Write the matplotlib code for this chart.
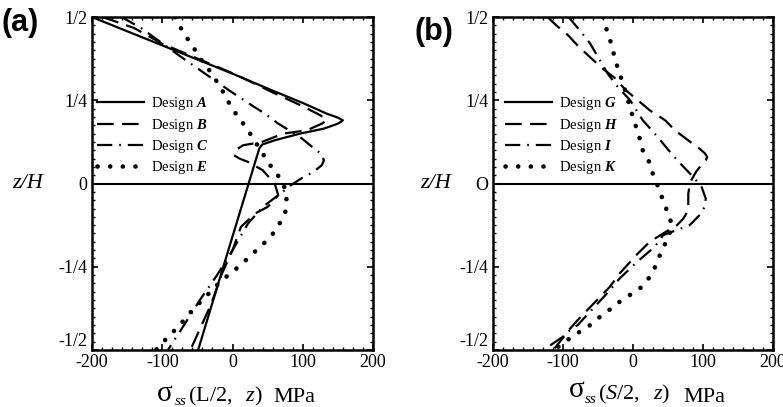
import matplotlib
matplotlib.use('Agg')
import matplotlib.pyplot as plt
from matplotlib.ticker import MultipleLocator

plt.rcParams['font.family'] = 'Liberation Serif'
plt.rcParams['mathtext.fontset'] = 'custom'
plt.rcParams['mathtext.rm'] = 'Liberation Serif'
plt.rcParams['mathtext.it'] = 'Liberation Serif:italic'
plt.rcParams['mathtext.bf'] = 'Liberation Serif:italic:bold'
plt.rcParams['lines.scale_dashes'] = False

# panel (a): sigma_ss(L/2, z) in MPa against z/H
A_x = [-200, -100, 0, 56, 100, 134, 150, 157, 150, 130, 96, 60, 42, 38, -11, -49]
A_z = [0.5, 0.415, 0.33, 0.28, 0.242, 0.21, 0.198, 0.19, 0.18, 0.165, 0.15, 0.13, 0.117, 0.105, -0.235, -0.5]

B_x = [-185, -164, -140, -100, 6, 56, 100, 125, 134, 127, 106, 72, 42, 15, 4, 2, 10, 22, 43, 60, 65, 50, 32,
       12, 0, -15, -30, -45, -60]
B_z = [0.5, 0.485, 0.467, 0.42, 0.326, 0.275, 0.232, 0.205, 0.19, 0.18, 0.16, 0.15, 0.125, 0.115, 0.1, 0.085,
       0.075, 0.065, 0.04, 0.0, -0.035, -0.07, -0.09, -0.13, -0.2, -0.27, -0.36, -0.43, -0.5]

C_x = [-158, -130, -75, -39, -5, 31, 46, 65, 96, 115, 126, 130, 127, 115, 99, 83, 65, 43, 22, 0, -22, -45, -69, -92]
C_z = [0.5, 0.467, 0.383, 0.33, 0.28, 0.23, 0.21, 0.18, 0.14, 0.107, 0.09, 0.07, 0.055, 0.035, 0.017, -0.005,
       -0.035, -0.07, -0.12, -0.2, -0.275, -0.345, -0.425, -0.5]

E_x = [-82, -69, -59, -44, -33, -22, -12, -2, 8, 20, 31, 40, 51, 63, 73, 77, 75, 67, 56, 42, 29, 14, 0, -15, -29,
       -43, -57, -69, -82, -96, -109]
E_z = [0.5, 0.45, 0.42, 0.37, 0.34, 0.305, 0.27, 0.23, 0.2, 0.167, 0.13, 0.1, 0.062, 0.03, -0.005, -0.04, -0.087,
       -0.12, -0.155, -0.185, -0.21, -0.24, -0.265, -0.29, -0.32, -0.35, -0.38, -0.41, -0.44, -0.47, -0.5]

# panel (b): sigma_ss(S/2, z); no solid G trace is visible in the picture
G_x = []
G_z = []

H_x = [-122, -110, -93, -77, -60, -43, -26, -10, 7, 24, 46, 60, 80, 95, 103, 106, 104, 100, 90, 82, 79, 79, 72,
       63, 43, 24, 7, -19, -33, -79, -100, -128]
H_z = [0.5, 0.476, 0.446, 0.41, 0.377, 0.345, 0.317, 0.28, 0.25, 0.22, 0.19, 0.16, 0.128, 0.105, 0.09, 0.08, 0.07,
       0.062, 0.035, 0.005, -0.03, -0.08, -0.105, -0.125, -0.15, -0.175, -0.21, -0.27, -0.31, -0.41, -0.46, -0.5]

I_x = [-92, -74, -61, -50, -36, -24, -4, 14, 29, 57, 70, 86, 98, 104, 103, 100, 95, 81, 62, 43, 31, 6, -19, -35,
       -79, -93, -114]
I_z = [0.5, 0.455, 0.42, 0.38, 0.33, 0.296, 0.25, 0.19, 0.155, 0.085, 0.055, 0.02, -0.01, -0.045, -0.065, -0.08,
       -0.095, -0.125, -0.14, -0.155, -0.19, -0.235, -0.285, -0.325, -0.425, -0.445, -0.5]

K_x = [-43, -37, -31, -26, -20, -14, -3, 3, 9, 14, 23, 29, 36, 43, 50, 56, 50, 41, 34, 26, 13, -1, -19, -34, -50,
       -64, -80, -97, -113]
K_z = [0.5, 0.458, 0.42, 0.377, 0.335, 0.3, 0.22, 0.18, 0.14, 0.1, 0.065, 0.025, -0.01, -0.05, -0.09, -0.125,
       -0.165, -0.2, -0.24, -0.275, -0.31, -0.33, -0.355, -0.38, -0.405, -0.43, -0.45, -0.475, -0.5]

x_ticks = [-200, -100, 0, 100, 200]
z_ticks = [-0.5, -0.25, 0, 0.25, 0.5]

solid = dict(color='k', lw=1.6, linestyle='-')
dashed = dict(color='k', lw=1.6, dashes=(12, 6))
dashdot = dict(color='k', lw=1.6, dashes=(11, 5, 1.2, 5))
dotted = dict(color='k', lw=3.3, dashes=(0.1, 9), dash_capstyle='round')

fig = plt.figure(figsize=(7.83, 4.07), dpi=100)
ax1 = fig.add_axes([0.1175, 0.14, 0.359, 0.818])
ax2 = fig.add_axes([0.6296, 0.14, 0.3576, 0.818])


def style_axes(ax, zero_label):
    ax.set_xlim(-200, 200)
    ax.set_ylim(-0.5, 0.5)
    ax.set_xticks(x_ticks)
    ax.set_xticklabels(['-200', '-100', '0', '100', '200'])
    ax.set_yticks(z_ticks)
    ax.set_yticklabels(['-1/2', '-1/4', zero_label, '1/4', '1/2'])
    ax.xaxis.set_minor_locator(MultipleLocator(100 / 7))
    ax.yaxis.set_minor_locator(MultipleLocator(0.025))
    ax.tick_params(which='both', direction='in', top=True, right=True, labelsize=13)
    ax.tick_params(which='major', length=4, width=1.2)
    ax.tick_params(which='minor', length=2.5, width=1)
    ax.tick_params(axis='x', pad=3)
    # lift the bottom "-1/2" a little, as in the original, so it clears "-200"
    ax.get_yticklabels()[0].set_verticalalignment('bottom')
    for s in ax.spines.values():
        s.set_linewidth(1.8)
    ax.axhline(0, color='k', lw=1.5)


style_axes(ax1, '0')
style_axes(ax2, 'O')

ax1.plot(A_x, A_z, label=r'Design $\mathbf{A}$', **solid)
ax1.plot(B_x, B_z, label=r'Design $\mathbf{B}$', **dashed)
ax1.plot(C_x, C_z, label=r'Design $\mathbf{C}$', **dashdot)
ax1.plot(E_x, E_z, label=r'Design $\mathbf{E}$', **dotted)

ax2.plot(G_x, G_z, label=r'Design $\mathbf{G}$', **solid)
ax2.plot(H_x, H_z, label=r'Design $\mathbf{H}$', **dashed)
ax2.plot(I_x, I_z, label=r'Design $\mathbf{I}$', **dashdot)
ax2.plot(K_x, K_z, label=r'Design $\mathbf{K}$', **dotted)

for ax, lx in [(ax1, 0.018), (ax2, 0.043)]:
    ax.legend(loc='upper left', bbox_to_anchor=(lx, 0.765), frameon=False, fontsize=10.5,
              handlelength=3.2, handletextpad=0.5, labelspacing=0.3, borderpad=0, borderaxespad=0)

ax1.text(-0.228, 0.5, 'z/H', transform=ax1.transAxes, style='italic', fontsize=16, ha='center', va='center')
ax2.text(-0.204, 0.5, 'z/H', transform=ax2.transAxes, style='italic', fontsize=16, ha='center', va='center')

W, Hh = 783.0, 407.0


def ftext(px, py, s, **kw):
    fig.text(px / W, 1 - py / Hh, s, va='baseline', **kw)


# x labels, assembled piece by piece
ftext(157, 401, '\u03c3', fontsize=21)
ftext(175, 405, 'ss', fontsize=11, style='italic')
ftext(188, 401, r'$(\mathrm{L/2},\ \ z)$', fontsize=16)
ftext(273, 402, 'MPa', fontsize=16)

ftext(569, 397, '\u03c3', fontsize=21)
ftext(585, 403, 'ss', fontsize=11, style='italic')
ftext(598, 399, r'$(S/2,\ \ z)$', fontsize=16)
ftext(683, 402, 'MPa', fontsize=16)

fig.text(0.002, 1 - 23 / Hh, '(a)', family='Liberation Sans', weight='bold', fontsize=22, va='center')
fig.text(415 / W, 1 - 32 / Hh, '(b)', family='Liberation Sans', weight='bold', fontsize=22, va='center')

fig.savefig('out.png', dpi=100)
